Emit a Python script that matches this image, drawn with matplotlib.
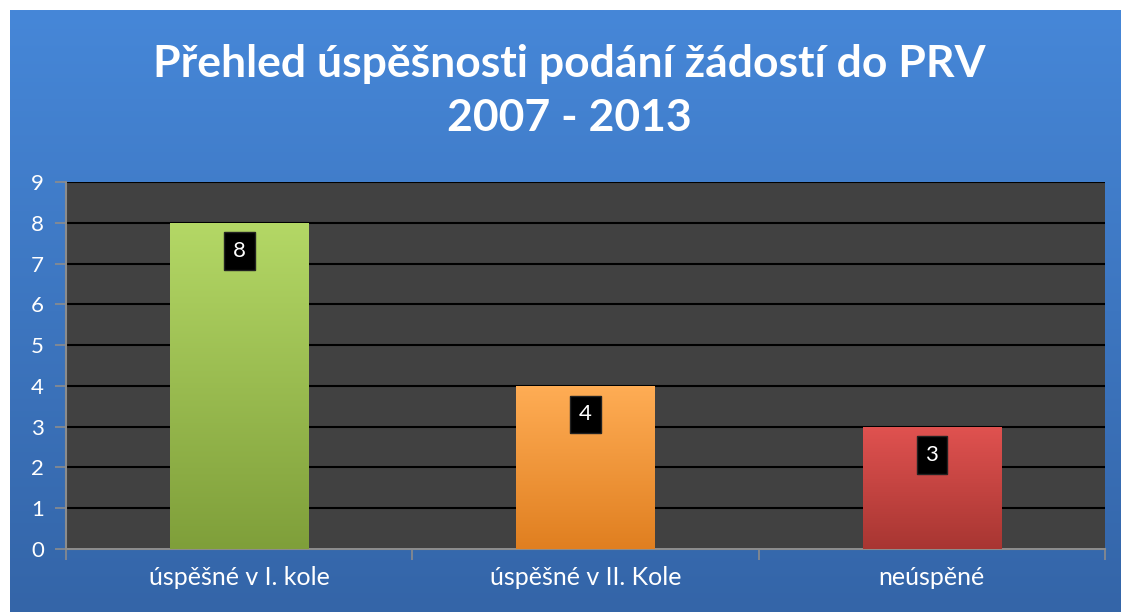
import matplotlib
matplotlib.use('Agg')
import matplotlib.pyplot as plt
from matplotlib.colors import LinearSegmentedColormap
import numpy as np

plt.rcParams['font.family'] = ['Lato', 'DejaVu Sans']

TITLE = 'Přehled úspěšnosti podání žádostí do PRV\n2007 - 2013'
categories = ['úspěšné v I. kole', 'úspěšné v II. Kole', 'neúspěné']
values = [8, 4, 3]
bar_colors = [('#b4d866', '#7f9f3a'), ('#ffad55', '#e07f20'), ('#e05250', '#a83632')]
yticks = list(range(0, 10))

BLUE_TOP = '#4687d8'
BLUE_BOTTOM = '#3465a8'
PLOT_BG = '#414141'

fig = plt.figure(figsize=(11.21, 6.12), dpi=100)
fig.patch.set_facecolor('white')

# blue panel with vertical gradient
bg = fig.add_axes([10 / 1121, 0, 1 - 10 / 1121, 1 - 10 / 612])
bg.axis('off')
cmap_bg = LinearSegmentedColormap.from_list('bg', [BLUE_TOP, BLUE_BOTTOM])
grad = np.linspace(0, 1, 256).reshape(-1, 1)
bg.imshow(grad, aspect='auto', cmap=cmap_bg, extent=[0, 1, 0, 1], origin='upper')
bg.set_xlim(0, 1)
bg.set_ylim(0, 1)

fig.text(0.508, 0.851, TITLE, ha='center', va='center', color='white',
         fontsize=32, fontweight='bold', linespacing=1.42)

ax = fig.add_axes([66 / 1121, 1 - 549 / 612, (1105 - 66) / 1121, (549 - 182) / 612])
ax.set_facecolor(PLOT_BG)
x = np.arange(len(categories))
bars = ax.bar(x, values, width=0.4, color=[c[0] for c in bar_colors], zorder=3,
              edgecolor='none')

# gradient fill inside each bar
for b, (c1, c2) in zip(bars, bar_colors):
    cm = LinearSegmentedColormap.from_list('b', [c1, c2])
    bx, bw, bh = b.get_x(), b.get_width(), b.get_height()
    im = ax.imshow(grad, aspect='auto', cmap=cm, origin='upper',
                   extent=[bx, bx + bw, 0, bh], zorder=3.5)
    im.set_clip_path(b)

for xi, v in zip(x, values):
    ax.text(xi, v - 0.7, str(v), ha='center', va='center', color='white',
            fontsize=16, zorder=5,
            bbox=dict(boxstyle='square,pad=0.4', facecolor='black', edgecolor='#222222'))

ax.set_xlim(-0.5, len(categories) - 0.5)
ax.set_ylim(0, 9)
ax.set_yticks(yticks)
ax.set_yticklabels([str(t) for t in yticks])
ax.yaxis.grid(True, color='black', linewidth=1.5, zorder=1)
ax.set_axisbelow(True)

ax.set_xticks(x)
ax.set_xticklabels(categories)
ax.set_xticks(np.arange(len(categories) + 1) - 0.5, minor=True)
ax.tick_params(axis='x', which='major', length=0, pad=12, labelsize=18, labelcolor='white')
ax.tick_params(axis='x', which='minor', length=8, color='#8c8c8c', width=1.2)
ax.tick_params(axis='y', length=8, color='#8c8c8c', width=1.2, labelsize=16,
               labelcolor='white', pad=8)

for side in ['top', 'right']:
    ax.spines[side].set_visible(False)
for side in ['left', 'bottom']:
    ax.spines[side].set_color('#8c8c8c')
    ax.spines[side].set_linewidth(1.5)

fig.savefig('out.png', dpi=100)
